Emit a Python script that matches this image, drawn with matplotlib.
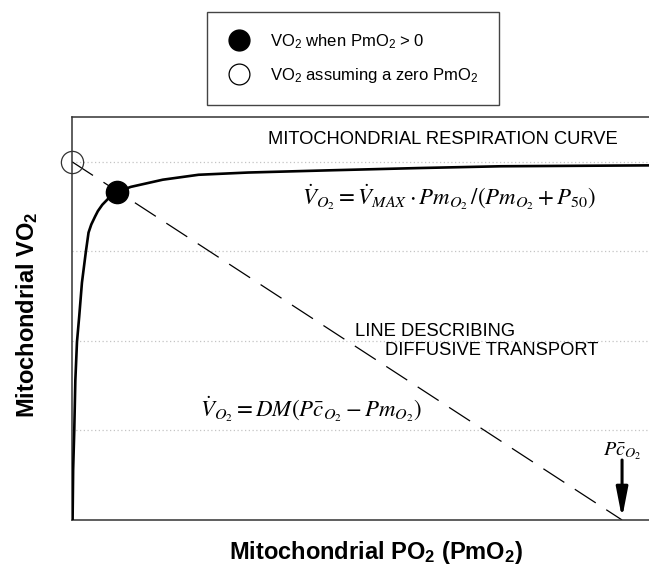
import matplotlib
matplotlib.use('Agg')
from matplotlib import pyplot as plt
from matplotlib.lines import Line2D

plt.rcParams['font.family'] = ['Liberation Sans', 'DejaVu Sans']
plt.rcParams['mathtext.fontset'] = 'custom'
plt.rcParams['mathtext.rm'] = 'Liberation Sans'
plt.rcParams['mathtext.it'] = 'Liberation Sans:italic'
plt.rcParams['mathtext.bf'] = 'Liberation Sans:bold'
plt.rcParams['mathtext.default'] = 'it'

# krzywa oddychania mitochondrialnego
curve_x = [0.01, 0.02, 0.04, 0.06, 0.09, 0.13, 0.18, 0.25, 0.30, 0.35, 0.42,
           0.47, 0.55, 0.66, 0.82, 1.07, 1.65, 2.3, 3.2, 4.7, 6.3, 7.8, 10.5]
curve_y = [0.0, 0.56, 0.99, 1.56, 1.99, 2.27, 2.65, 2.99, 3.21, 3.30, 3.39,
           3.45, 3.52, 3.59, 3.665, 3.72, 3.80, 3.855, 3.88, 3.905, 3.93, 3.95, 3.96]

# prosta transportu dyfuzyjnego
diff_x = [0, 10]
diff_y = [4, 0]

# punkty
open_pt = (0, 4)
filled_pt = (0.82, 3.665)
pc_o2 = 10
grid_levels = [1, 2, 3, 4]

fig = plt.figure(figsize=(6.49, 5.68), dpi=100)
ax = fig.add_axes([0.111, 0.0845, 0.889, 0.7095])
ax.set_xlim(0, 10.49)
ax.set_ylim(0, 4.5)
ax.set_xticks([])
ax.set_yticks([])
for y in grid_levels:
    ax.axhline(y, color='#c4c4c4', linestyle=(0, (1, 2)), linewidth=0.9, zorder=0)
ax.spines['right'].set_visible(False)
for s in ['left', 'top', 'bottom']:
    ax.spines[s].set_color('#333333')
    ax.spines[s].set_linewidth(1.1)

ax.plot(curve_x, curve_y, color='black', linewidth=1.9, solid_capstyle='butt', zorder=3)
ax.plot(diff_x, diff_y, color='black', linewidth=0.9, dashes=(20, 10), zorder=2)
ax.plot(*open_pt, marker='o', markersize=16, markerfacecolor='none',
        markeredgecolor='#333333', markeredgewidth=0.9, clip_on=False, zorder=4)
ax.plot(*filled_pt, marker='o', markersize=16, color='black', zorder=5)

ax.annotate('', xy=(pc_o2, 0.02), xytext=(pc_o2, 0.67),
            arrowprops=dict(arrowstyle='-|>,head_length=1.8,head_width=0.35',
                            color='black', linewidth=2.2, shrinkA=0, shrinkB=0))
ax.text(pc_o2, 0.726, r'$P\bar{c}_{O_2}$', fontsize=14.5, ha='center', va='baseline',
        math_fontfamily='stix')

ax.text(3.56, 4.25, 'MITOCHONDRIAL RESPIRATION CURVE', fontsize=13.2, ha='left', va='center')
ax.text(5.15, 2.11, 'LINE DESCRIBING', fontsize=13.2, ha='left', va='center')
ax.text(5.69, 1.89, 'DIFFUSIVE TRANSPORT', fontsize=13.2, ha='left', va='center')

ax.text(4.18, 3.52,
        r'$\dot{V}_{O_2} = \dot{V}_{MAX} \cdot Pm_{O_2}\,/\left(Pm_{O_2} + P_{50}\right)$',
        fontsize=16.5, ha='left', va='baseline', math_fontfamily='stix')
ax.text(2.33, 1.15,
        r'$\dot{V}_{O_2} = DM\left(P\bar{c}_{O_2} - Pm_{O_2}\right)$',
        fontsize=16.5, ha='left', va='baseline', math_fontfamily='stix')

fig.text(0.042, 0.445, r'Mitochondrial VO$_\mathbf{2}$', rotation=90, fontsize=17,
         fontweight='bold', ha='center', va='center')
fig.text(0.579, 0.028, r'Mitochondrial PO$_\mathbf{2}$ (PmO$_\mathbf{2}$)', fontsize=17,
         fontweight='bold', ha='center', va='center')

handles = [
    Line2D([], [], marker='o', linestyle='none', markersize=15, color='black'),
    Line2D([], [], marker='o', linestyle='none', markersize=15, markerfacecolor='none',
           markeredgecolor='black', markeredgewidth=0.9),
]
labels = [r'VO$_2$ when PmO$_2$ > 0', r'VO$_2$ assuming a zero PmO$_2$']
leg = fig.legend(handles, labels, loc='upper left', bbox_to_anchor=(0.319, 0.979),
                 fontsize=12, frameon=True, fancybox=False, edgecolor='#444444',
                 framealpha=1, borderpad=1.2, labelspacing=0.9, handlelength=1.4,
                 handletextpad=1.2, borderaxespad=0)
leg.get_frame().set_linewidth(1.0)

fig.savefig('out.png', dpi=100)
